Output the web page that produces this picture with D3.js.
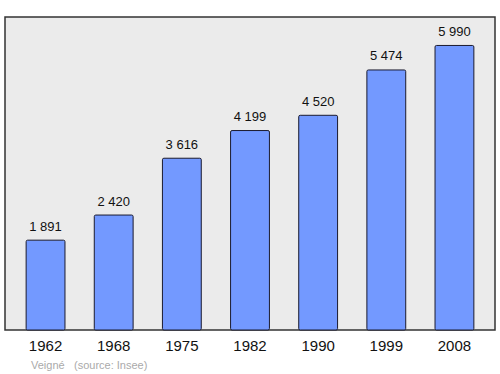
<!DOCTYPE html>
<html>
<head>
<meta charset="utf-8">
<script src="https://cdn.jsdelivr.net/npm/d3@7"></script>
<style>
  body { margin: 0; background: #fff; }
  svg { display: block; font-family: "Liberation Sans", Arial, sans-serif; }
</style>
</head>
<body>
<svg id="chart" width="500" height="374"></svg>
<script>
const years = ['1962', '1968', '1975', '1982', '1990', '1999', '2008'];
const population = [1891, 2420, 3616, 4199, 4520, 5474, 5990];
const footer = ['Veigné', '(source: Insee)'];

function drawChart(id) {
  const frame = { left: 5, top: 17, right: 495, bottom: 330 };
  const svg = d3.select(id);

  const xScale = d3
    .scaleBand(years, [frame.left, frame.right])
    .paddingInner(0.43)
    .paddingOuter(0.31);
  const yScale = d3.scaleLinear(
    [0, d3.max(population) * 1.1],
    [frame.bottom, frame.top]
  );

  /* background frame */
  svg
    .append('rect')
    .attr('x', frame.left)
    .attr('y', frame.top)
    .attr('width', frame.right - frame.left)
    .attr('height', frame.bottom - frame.top)
    .attr('fill', '#ebebeb')
    .attr('stroke', '#333')
    .attr('stroke-width', 1.5);

  /* bars */
  svg
    .append('g')
    .selectAll('.bar')
    .data(population)
    .enter()
    .append('rect')
    .attr('class', 'bar')
    .attr('x', (d, i) => xScale(years[i]))
    .attr('y', d => yScale(d))
    .attr('width', xScale.bandwidth())
    .attr('height', d => frame.bottom - yScale(d))
    .attr('rx', 1.5)
    .attr('fill', '#7399ff')
    .attr('stroke', '#1a1a2e')
    .attr('stroke-width', 1);

  /* value labels */
  svg
    .append('g')
    .attr('font-size', 13)
    .attr('fill', '#111')
    .attr('text-anchor', 'middle')
    .selectAll('text')
    .data(population)
    .enter()
    .append('text')
    .attr('x', (d, i) => xScale(years[i]) + xScale.bandwidth() / 2)
    .attr('y', d => yScale(d) - 9.5)
    .text(d => d3.format(',')(d).replace(',', ' '));

  /* bottom axis labels */
  const bottomAxis = d3.axisBottom(xScale).tickSize(0).tickPadding(10);
  svg
    .append('g')
    .attr('transform', `translate(0, ${frame.bottom})`)
    .call(bottomAxis)
    .call(g => g.select('.domain').remove())
    .selectAll('text')
    .attr('font-size', 15)
    .attr('fill', '#111')
    .attr('font-family', '"Liberation Sans", Arial, sans-serif');

  /* footer */
  svg
    .append('text')
    .attr('x', 31)
    .attr('y', 369)
    .attr('font-size', 11)
    .attr('fill', '#aaa')
    .text(footer[0]);
  svg
    .append('text')
    .attr('x', 74)
    .attr('y', 369)
    .attr('font-size', 11)
    .attr('fill', '#aaa')
    .text(footer[1]);
}

drawChart('#chart');
</script>
</body>
</html>
